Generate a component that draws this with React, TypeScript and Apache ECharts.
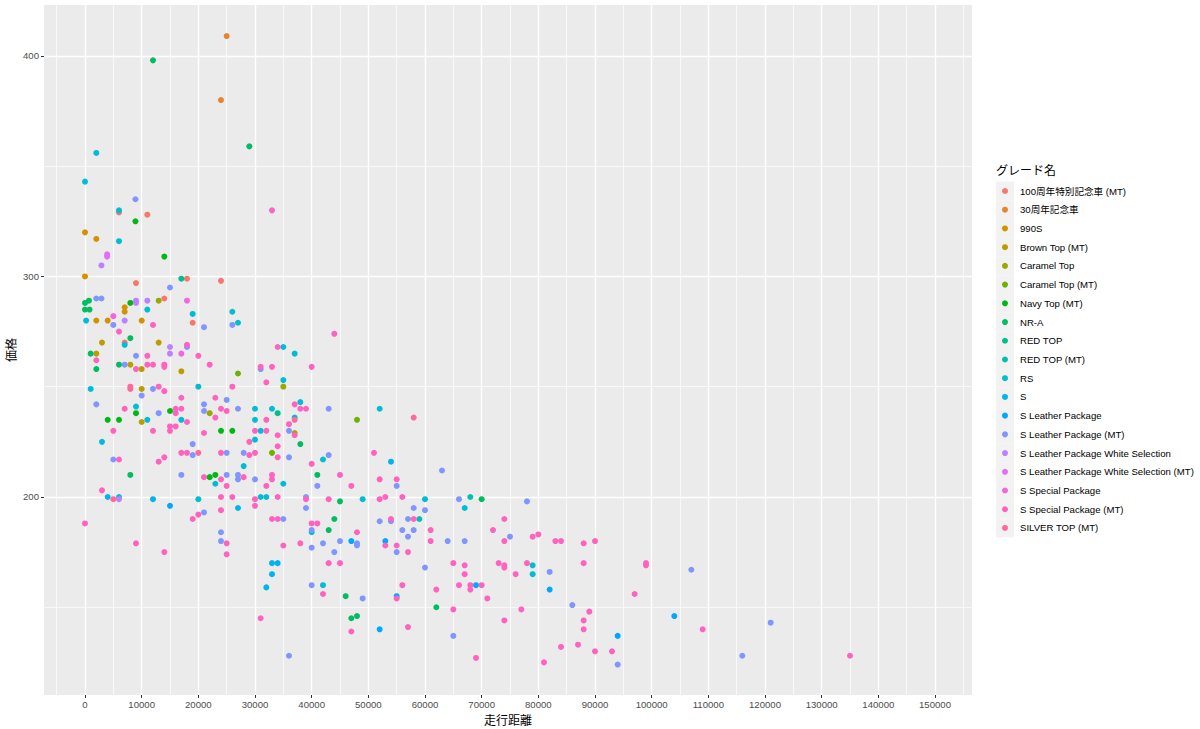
import React, { useEffect, useRef } from "react";
import * as echarts from "echarts";

const grades = [
  "100周年特別記念車 (MT)",
  "30周年記念車",
  "990S",
  "Brown Top (MT)",
  "Caramel Top",
  "Caramel Top (MT)",
  "Navy Top (MT)",
  "NR-A",
  "RED TOP",
  "RED TOP (MT)",
  "RS",
  "S",
  "S Leather Package",
  "S Leather Package (MT)",
  "S Leather Package White Selection",
  "S Leather Package White Selection (MT)",
  "S Special Package",
  "S Special Package (MT)",
  "SILVER TOP (MT)",
];

// [走行距離, 価格]
const anniv100 = [[6000,329],[11000,328],[9000,297],[18000,299],[14000,290],[19000,279],[7000,270],[24000,298]];
const anniv30 = [[25000,409],[24000,380]];
const s990 = [[0,320],[2000,317],[0,300],[7000,286],[7000,284],[2000,280],[4000,280],[10000,280]];
const brownTop = [[3000,270],[13000,270],[2000,265],[8000,260],[10000,258],[17000,257],[10000,234],[10000,249]];
const caramelTop = [[13000,289],[35000,250],[37000,229],[22000,238]];
const caramelTopMT = [[27000,256],[33000,220],[48000,235]];
const navyTopMT = [[8900,325],[14000,309],[8000,288],[9000,238],[15000,239],[4000,235],[6000,235],[24000,230],[26000,230],[22000,209],[23000,210]];
const nrA = [[12000,398],[29000,359],[0,288],[700,289],[0,285],[800,285],[1000,265],[2000,258],[6000,260],[8000,272],[8000,210],[38000,224],[41000,210],[45000,198],[44000,190],[43000,185],[46000,155],[47000,145],[48000,146],[62000,150],[70000,199]];
const redTop = [[34000,238],[17000,299]];
const redTopMT = [[68000,200],[59000,190]];
const rs = [[2000,356],[0,343],[6000,330],[6000,316],[11000,285],[19000,283],[200,280],[7000,269],[1000,249],[9000,241],[11000,235],[17000,235],[3000,225],[26000,284],[27000,279],[35000,268],[37000,265],[35000,253],[20000,250],[38000,243],[30000,240],[33000,240],[37000,236],[30000,235],[31000,230],[30000,226],[28000,214],[23000,206],[35000,206],[20000,199],[31000,200],[32000,200],[52000,240],[42000,217],[49000,199],[60000,199],[40000,184],[67000,195],[42000,160],[6000,200],[79000,169],[79000,165]];
const sGrade = [[4000,200],[12000,199],[27000,195],[54000,216],[33000,170],[34000,170],[33000,165],[32000,159]];
const sLeather = [[104000,146],[94000,137],[52000,140],[15000,196],[55000,155],[47000,180],[53000,180],[82000,158],[69000,160]];
const sLeatherMT = [[8900,335],[15000,295],[2000,290],[2900,290],[5000,278],[7000,260],[18000,268],[9000,264],[12000,249],[10000,246],[2000,242],[13000,238],[21000,277],[26000,278],[31000,258],[25000,244],[21000,242],[21000,239],[27000,240],[43000,240],[19000,224],[19000,219],[5000,217],[17000,210],[36000,230],[25000,220],[28000,220],[36000,218],[25000,210],[27000,210],[27000,208],[30000,208],[39000,200],[39000,195],[21000,193],[35000,190],[24000,184],[24000,180],[43000,219],[41000,205],[55000,205],[58000,195],[60000,194],[52000,189],[54000,189],[57000,190],[40000,185],[56000,185],[58000,185],[57000,182],[42000,179],[45000,180],[48000,179],[48000,178],[40000,177],[44000,175],[55000,175],[63000,212],[66000,199],[78000,198],[64000,180],[67000,180],[75000,182],[60000,168],[40000,160],[49000,154],[36000,128],[82000,166],[86000,151],[65000,137],[94000,124],[107000,167],[121000,143],[116000,128]];
const sLeatherWS = [[2900,305],[9000,289],[9000,288],[11000,289],[7000,280],[15000,268],[15000,265],[6000,199]];
const sLeatherWSMT = [[3900,310],[3900,309]];
const sSpecial = [[5000,282],[18000,289],[17000,265]];
const sSpecialMT = [[33000,330],[12000,278],[6000,275],[18000,269],[2000,262],[11000,264],[9000,258],[11000,260],[12000,260],[14000,260],[14000,259],[13000,250],[14000,248],[17000,245],[7000,240],[16000,240],[17000,240],[16000,238],[34000,268],[20000,264],[22000,260],[31000,259],[33000,259],[32000,252],[26000,250],[23000,245],[24000,240],[25000,239],[37000,242],[38000,240],[39000,240],[23000,236],[44000,274],[40000,259],[18000,234],[5000,230],[12000,230],[15000,232],[16000,232],[15000,230],[13000,216],[14000,218],[17000,220],[18000,220],[6000,217],[3000,203],[0,188],[19000,190],[9000,179],[14000,175],[32000,235],[36000,233],[21000,229],[30000,230],[32000,230],[37000,228],[34000,228],[29000,225],[34000,223],[24000,220],[29000,219],[30000,220],[34000,218],[21000,209],[24000,208],[28000,209],[33000,210],[33000,208],[25000,205],[32000,205],[24000,200],[26000,200],[30000,199],[30000,196],[34000,200],[39000,199],[24000,194],[20000,192],[33000,190],[34000,190],[25000,179],[25000,174],[35000,178],[38000,179],[51000,220],[40000,215],[45000,210],[52000,208],[55000,208],[47000,205],[43000,199],[52000,199],[53000,200],[56000,200],[40000,188],[41000,188],[54000,190],[58000,190],[48000,184],[53000,178],[55000,178],[57000,175],[43000,170],[45000,170],[74000,190],[61000,185],[61000,180],[72000,185],[74000,180],[79000,182],[80000,183],[83000,180],[84000,180],[88000,179],[90000,180],[42000,156],[55000,154],[56000,160],[31000,145],[47000,139],[57000,141],[65000,170],[67000,169],[67000,165],[73000,170],[74000,169],[74000,168],[78000,170],[76000,165],[88000,170],[62000,158],[66000,160],[68000,160],[68000,158],[70000,160],[71000,154],[97000,156],[65000,149],[77000,149],[89000,148],[74000,144],[88000,144],[88000,140],[84000,132],[87000,133],[90000,130],[93000,130],[69000,127],[81000,125],[99000,170],[99000,169],[109000,140],[135000,128]];
const silverTopMT = [[8000,250],[8000,249],[20000,220],[5000,199],[37000,235],[58000,236]];

const gradeData = [anniv100, anniv30, s990, brownTop, caramelTop, caramelTopMT, navyTopMT, nrA, redTop, redTopMT, rs, sGrade, sLeather, sLeatherMT, sLeatherWS, sLeatherWSMT, sSpecial, sSpecialMT, silverTopMT];

const xBreaks = [0,10000,20000,30000,40000,50000,60000,70000,80000,90000,100000,110000,120000,130000,140000,150000];
const xMinorBreaks = [-5000,5000,15000,25000,35000,45000,55000,65000,75000,85000,95000,105000,115000,125000,135000,145000,155000];
const yBreaks = [200,300,400];
const yMinorBreaks = [150,250,350];

const X_MIN = -7235;
const X_MAX = 156530;
const Y_MIN = 110.2;
const Y_MAX = 423.1;

const FONT = "Liberation Sans, Noto Sans CJK JP, sans-serif";

function hclColor(h: number, c = 100, l = 65): string {
  const hr = (h * Math.PI) / 180;
  const U = c * Math.cos(hr);
  const V = c * Math.sin(hr);
  const Xn = 95.047, Yn = 100, Zn = 108.883;
  const Y = l > 7.999592 ? Yn * Math.pow((l + 16) / 116, 3) : (Yn * l) / 903.3;
  const t = Xn + 15 * Yn + 3 * Zn;
  const un = (4 * Xn) / t;
  const vn = (9 * Yn) / t;
  const up = U / (13 * l) + un;
  const vp = V / (13 * l) + vn;
  const X = (Y * 9 * up) / (4 * vp);
  const Z = (Y * (12 - 3 * up - 20 * vp)) / (4 * vp);
  const x = X / 100, y = Y / 100, z = Z / 100;
  const lin = [
    3.240479 * x - 1.53715 * y - 0.498535 * z,
    -0.969256 * x + 1.875992 * y + 0.041556 * z,
    0.055648 * x - 0.204043 * y + 1.057311 * z,
  ];
  const hex = lin
    .map((v) => {
      let g = v <= 0.0031308 ? 12.92 * v : 1.055 * Math.pow(v, 1 / 2.4) - 0.055;
      g = Math.max(0, Math.min(1, g));
      return Math.round(g * 255).toString(16).padStart(2, "0");
    })
    .join("");
  return "#" + hex;
}

export default function App() {
  const ref = useRef<HTMLDivElement>(null);
  useEffect(() => {
    document.body.style.margin = "0";
    const chart = echarts.init(ref.current!, null, { renderer: "svg" });
    const n = grades.length;
    const colors = grades.map((_, i) => hclColor(15 + (360 / n) * i));

    const keyTop = 181.64;
    const keyH = 18.72;
    const graphics: any[] = grades.map((_, i) => ({
      type: "rect",
      z: 0,
      silent: true,
      shape: { x: 996, y: keyTop + i * keyH, width: 18, height: keyH },
      style: { fill: "#F2F2F2" },
    }));
    graphics.push({
      type: "text",
      x: 996,
      y: 171,
      silent: true,
      style: {
        text: "グレード名",
        fontSize: 12,
        fontFamily: FONT,
        fill: "#000000",
        align: "left",
        verticalAlign: "middle",
      },
    });
    graphics.push({
      type: "text",
      x: 12,
      y: 350,
      rotation: Math.PI / 2,
      silent: true,
      style: {
        text: "価格",
        fontSize: 12,
        fontFamily: FONT,
        fill: "#000000",
        align: "center",
        verticalAlign: "middle",
      },
    });

    const axisLabelStyle = { color: "#4D4D4D", fontSize: 9.6, fontFamily: FONT };

    const option: any = {
      animation: false,
      backgroundColor: "#FFFFFF",
      color: colors,
      grid: {
        left: 44,
        right: 228,
        top: 5,
        bottom: 34,
        show: true,
        backgroundColor: "#EBEBEB",
        borderWidth: 0,
        containLabel: false,
        outerBoundsMode: "none",
      },
      legend: {
        orient: "vertical",
        left: 1002,
        top: keyTop,
        padding: 0,
        itemGap: 0,
        itemWidth: 6,
        itemHeight: 6,
        icon: "circle",
        selectedMode: false,
        data: grades,
        textStyle: { fontSize: 9.6, lineHeight: keyH, color: "#000000", fontFamily: FONT, padding: [0, 0, 0, 7] },
      },
      xAxis: [
        {
          type: "value",
          min: X_MIN,
          max: X_MAX,
          position: "bottom",
          axisLine: { show: false, onZero: false },
          axisTick: { show: true, length: 3, lineStyle: { color: "#333333", width: 1 }, customValues: xBreaks },
          axisLabel: { ...axisLabelStyle, margin: 5, customValues: xBreaks, formatter: (v: number) => String(v) },
          splitLine: { show: true, lineStyle: { color: "#FFFFFF", width: 1.4 } },
          name: "走行距離",
          nameLocation: "middle",
          nameGap: 18,
          nameTextStyle: { fontSize: 12, color: "#000000", fontFamily: FONT },
        },
        {
          type: "value",
          min: X_MIN,
          max: X_MAX,
          position: "top",
          axisLine: { show: false, onZero: false },
          axisTick: { show: false, customValues: xMinorBreaks },
          axisLabel: { show: false, customValues: xMinorBreaks },
          splitLine: { show: true, lineStyle: { color: "#FFFFFF", width: 0.7 } },
        },
      ],
      yAxis: [
        {
          type: "value",
          min: Y_MIN,
          max: Y_MAX,
          position: "left",
          axisLine: { show: false, onZero: false },
          axisTick: { show: true, length: 3, lineStyle: { color: "#333333", width: 1 }, customValues: yBreaks },
          axisLabel: { ...axisLabelStyle, margin: 5, customValues: yBreaks, formatter: (v: number) => String(v) },
          splitLine: { show: true, lineStyle: { color: "#FFFFFF", width: 1.4 } },
        },
        {
          type: "value",
          min: Y_MIN,
          max: Y_MAX,
          position: "right",
          axisLine: { show: false, onZero: false },
          axisTick: { show: false, customValues: yMinorBreaks },
          axisLabel: { show: false, customValues: yMinorBreaks },
          splitLine: { show: true, lineStyle: { color: "#FFFFFF", width: 0.7 } },
        },
      ],
      graphic: graphics,
      series: grades.map((g, i) => ({
        type: "scatter",
        name: g,
        xAxisIndex: 0,
        yAxisIndex: 0,
        data: gradeData[i],
        symbol: "circle",
        symbolSize: 6,
        itemStyle: { color: colors[i], opacity: 1 },
        emphasis: { disabled: true },
        z: 3,
      })),
    };
    chart.setOption(option);
    return () => chart.dispose();
  }, []);
  return <div ref={ref} style={{ width: 1200, height: 729 }} />;
}
